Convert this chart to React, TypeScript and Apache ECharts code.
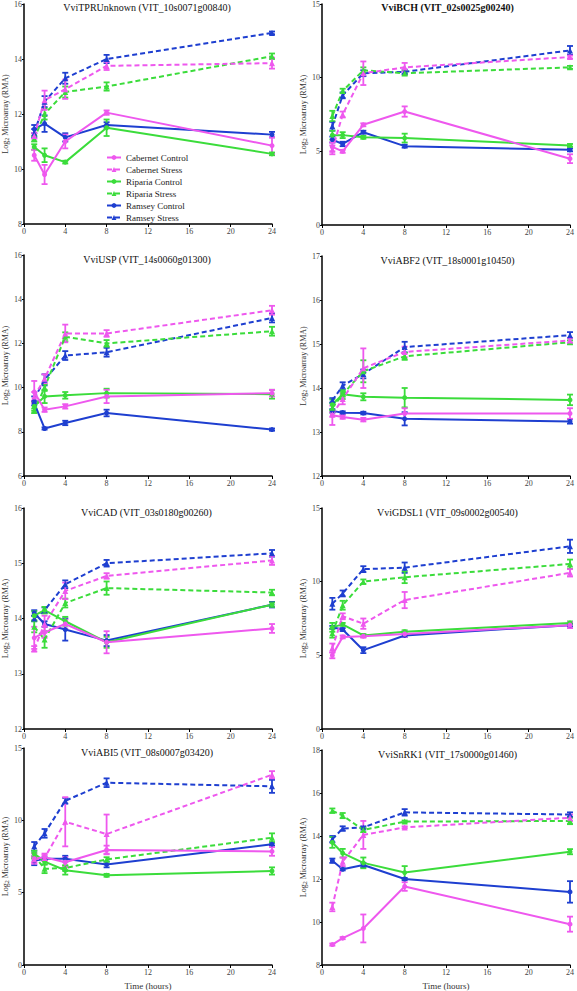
import React, { useEffect, useRef } from "react";
import * as echarts from "echarts";

// ---------- data ----------
const times = [1, 2, 4, 8, 24];
const xTicks = [0, 4, 8, 12, 16, 20, 24];
const seriesNames = [
  "Cabernet Control",
  "Cabernet Stress",
  "Riparia Control",
  "Riparia Stress",
  "Ramsey Control",
  "Ramsey Stress",
];
const seriesColors = ["#ee58ee", "#ee58ee", "#3bdc3b", "#3bdc3b", "#1e3fd0", "#1e3fd0"];

const panelTitles = [
  "VviTPRUnknown (VIT_10s0071g00840)",
  "VviBCH (VIT_02s0025g00240)",
  "VviUSP (VIT_14s0060g01300)",
  "VviABF2 (VIT_18s0001g10450)",
  "VviCAD (VIT_03s0180g00260)",
  "VviGDSL1 (VIT_09s0002g00540)",
  "VviABI5 (VIT_08s0007g03420)",
  "VviSnRK1 (VIT_17s0000g01460)",
];
const yMins = [8, 0, 6, 12, 12, 0, 0, 8];
const yMaxs = [16, 15, 16, 17, 16, 15, 15, 18];
const yIntervals = [2, 5, 2, 1, 1, 5, 5, 2];

// order in each: CabC, CabS, RipC, RipS, RamC, RamS
const tprMeans = [
  [10.5, 9.8, 11.0, 12.05, 10.85],
  [11.2, 12.5, 12.9, 13.75, 13.85],
  [10.8, 10.5, 10.25, 11.5, 10.55],
  [11.1, 12.0, 12.8, 13.0, 14.1],
  [11.45, 11.65, 11.15, 11.6, 11.25],
  [11.3, 12.45, 13.3, 14.0, 14.95],
];
const tprErrs = [
  [0.2, 0.35, 0.25, 0.08, 0.3],
  [0.1, 0.35, 0.35, 0.15, 0.2],
  [0.1, 0.25, 0.05, 0.3, 0.05],
  [0.1, 0.2, 0.2, 0.15, 0.1],
  [0.15, 0.3, 0.15, 0.1, 0.1],
  [0.15, 0.2, 0.2, 0.15, 0.05],
];

const bchMeans = [
  [5.3, 5.0, 6.8, 7.7, 4.5],
  [5.1, 7.5, 10.3, 10.7, 11.4],
  [6.1, 6.1, 5.95, 5.9, 5.4],
  [7.4, 9.1, 10.5, 10.3, 10.7],
  [5.8, 5.5, 6.3, 5.35, 5.1],
  [6.7, 8.8, 10.3, 10.4, 11.85],
];
const bchErrs = [
  [0.3, 0.1, 0.1, 0.35, 0.3],
  [0.3, 0.2, 0.8, 0.3, 0.1],
  [0.3, 0.2, 0.1, 0.3, 0.1],
  [0.35, 0.15, 0.2, 0.15, 0.1],
  [0.2, 0.15, 0.1, 0.1, 0.1],
  [0.3, 0.2, 0.2, 0.15, 0.3],
];

const uspMeans = [
  [9.8, 9.0, 9.15, 9.6, 9.75],
  [9.6, 10.4, 12.45, 12.45, 13.5],
  [9.15, 9.6, 9.65, 9.75, 9.7],
  [8.95, 10.0, 12.3, 12.0, 12.55],
  [9.3, 8.15, 8.4, 8.85, 8.1],
  [9.5, 10.35, 11.45, 11.6, 13.15],
];
const uspErrs = [
  [0.5, 0.1, 0.1, 0.3, 0.15],
  [0.2, 0.2, 0.4, 0.15, 0.2],
  [0.2, 0.3, 0.15, 0.2, 0.2],
  [0.1, 0.15, 0.2, 0.15, 0.2],
  [0.1, 0.05, 0.1, 0.15, 0.05],
  [0.1, 0.25, 0.2, 0.2, 0.2],
];

const abf2Means = [
  [13.38, 13.34, 13.28, 13.42, 13.42],
  [13.4, 13.75, 14.45, 14.82, 15.08],
  [13.62, 13.86, 13.8, 13.78, 13.73],
  [13.55, 13.85, 14.38, 14.72, 15.04],
  [13.48, 13.44, 13.43, 13.3, 13.24],
  [13.72, 14.05, 14.32, 14.93, 15.2],
];
const abf2Errs = [
  [0.22, 0.04, 0.04, 0.12, 0.12],
  [0.05, 0.12, 0.45, 0.12, 0.05],
  [0.12, 0.05, 0.08, 0.22, 0.12],
  [0.1, 0.1, 0.25, 0.08, 0.04],
  [0.04, 0.03, 0.03, 0.15, 0.05],
  [0.05, 0.08, 0.1, 0.12, 0.07],
];

const cadMeans = [
  [13.65, 13.75, 13.9, 13.57, 13.82],
  [13.45, 13.9, 14.5, 14.77, 15.05],
  [14.05, 14.15, 13.95, 13.57, 14.25],
  [13.85, 13.62, 14.28, 14.55, 14.47],
  [14.1, 13.9, 13.8, 13.6, 14.25],
  [14.0, 14.15, 14.62, 15.0, 15.18],
];
const cadErrs = [
  [0.2, 0.1, 0.08, 0.2, 0.08],
  [0.05, 0.15, 0.15, 0.05, 0.08],
  [0.08, 0.06, 0.08, 0.1, 0.04],
  [0.1, 0.15, 0.08, 0.12, 0.05],
  [0.05, 0.05, 0.2, 0.1, 0.05],
  [0.05, 0.05, 0.07, 0.06, 0.06],
];

const gdslMeans = [
  [5.0, 6.25, 6.3, 6.45, 7.05],
  [5.5, 7.65, 7.15, 8.75, 10.6],
  [6.9, 7.1, 6.35, 6.6, 7.2],
  [6.5, 8.4, 10.0, 10.3, 11.2],
  [6.9, 6.75, 5.35, 6.35, 7.05],
  [8.5, 9.2, 10.85, 10.95, 12.4],
];
const gdslErrs = [
  [0.2, 0.1, 0.1, 0.2, 0.2],
  [0.3, 0.2, 0.35, 0.55, 0.25],
  [0.3, 0.1, 0.1, 0.1, 0.1],
  [0.3, 0.3, 0.15, 0.4, 0.3],
  [0.1, 0.1, 0.2, 0.1, 0.1],
  [0.4, 0.2, 0.2, 0.35, 0.45],
];

const abi5Means = [
  [7.35, 7.45, 7.1, 7.95, 7.85],
  [7.3, 7.4, 9.9, 9.05, 13.15],
  [7.7, 7.15, 6.55, 6.2, 6.5],
  [7.55, 6.65, 6.7, 7.3, 8.8],
  [7.2, 7.35, 7.35, 6.95, 8.35],
  [8.2, 9.1, 11.35, 12.6, 12.35],
];
const abi5Errs = [
  [0.35, 0.25, 0.35, 0.3, 0.3],
  [0.2, 0.2, 1.7, 1.35, 0.25],
  [0.2, 0.2, 0.3, 0.1, 0.25],
  [0.2, 0.3, 0.2, 0.15, 0.3],
  [0.3, 0.1, 0.2, 0.2, 0.1],
  [0.3, 0.3, 0.2, 0.3, 0.45],
];

const snrkMeans = [
  [8.95, 9.25, 9.7, 11.65, 9.9],
  [10.7, 12.8, 14.05, 14.4, 14.85],
  [13.7, 13.2, 12.75, 12.3, 13.27],
  [15.18, 14.95, 14.28, 14.67, 14.7],
  [12.85, 12.45, 12.65, 12.0, 11.4],
  [13.85, 14.35, 14.4, 15.1, 15.0],
];
const snrkErrs = [
  [0.05, 0.05, 0.65, 0.2, 0.35],
  [0.2, 0.2, 0.65, 0.05, 0.15],
  [0.25, 0.2, 0.25, 0.3, 0.12],
  [0.1, 0.12, 0.1, 0.05, 0.15],
  [0.1, 0.05, 0.1, 0.05, 0.5],
  [0.15, 0.1, 0.05, 0.15, 0.1],
];

const panelMeans = [tprMeans, bchMeans, uspMeans, abf2Means, cadMeans, gdslMeans, abi5Means, snrkMeans];
const panelErrs = [tprErrs, bchErrs, uspErrs, abf2Errs, cadErrs, gdslErrs, abi5Errs, snrkErrs];

// ---------- layout ----------
const FONT = "'Liberation Serif', 'DejaVu Serif', serif";
const gridRects = [
  { left: 22, top: 3, width: 250, height: 221 },
  { left: 322, top: 3, width: 251, height: 222 },
  { left: 22, top: 255, width: 250, height: 221 },
  { left: 322, top: 256, width: 251, height: 220 },
  { left: 21, top: 508, width: 251, height: 221 },
  { left: 322, top: 508, width: 251, height: 221 },
  { left: 22, top: 748, width: 250, height: 220 },
  { left: 322, top: 750, width: 251, height: 218 },
];

function buildOption() {
  const grids: any[] = [];
  const xAxes: any[] = [];
  const yAxes: any[] = [];
  const titles: any[] = [];
  const series: any[] = [];

  gridRects.forEach((g, p) => {
    grids.push({ left: g.left, top: g.top, width: g.width, height: g.height, containLabel: false });
    const bottomRow = p >= 6;
    xAxes.push({
      type: "value",
      gridIndex: p,
      min: xTicks[0],
      max: xTicks[xTicks.length - 1],
      interval: 4,
      name: bottomRow ? "Time (hours)" : "",
      nameLocation: "middle",
      nameGap: 16,
      nameTextStyle: { fontFamily: FONT, fontSize: 9, color: "#333" },
      axisLine: { show: true, onZero: false, lineStyle: { color: "#000", width: 1.5 } },
      axisTick: { show: true, length: 3, lineStyle: { color: "#000", width: 1 } },
      axisLabel: { fontFamily: FONT, fontSize: 8, color: "#444", margin: 3 },
      splitLine: { show: false },
    });
    yAxes.push({
      type: "value",
      gridIndex: p,
      min: yMins[p],
      max: yMaxs[p],
      interval: yIntervals[p],
      name: "Log{sub|2} Microarray (RMA)",
      nameLocation: "middle",
      nameGap: 11,
      nameTextStyle: {
        fontFamily: FONT,
        fontSize: 8,
        color: "#333",
        rich: { sub: { fontFamily: FONT, fontSize: 6, color: "#333", verticalAlign: "bottom", padding: [4, 0, 0, 0] } },
      },
      axisLine: { show: true, onZero: false, lineStyle: { color: "#000", width: 1.5 } },
      axisTick: { show: true, length: 2, lineStyle: { color: "#000", width: 1 } },
      axisLabel: { fontFamily: FONT, fontSize: 8, color: "#444", margin: 2 },
      splitLine: { show: false },
    });
    titles.push({
      text: panelTitles[p],
      left: g.left + g.width / 2,
      top: g.top - 1,
      textAlign: "center",
      padding: 0,
      textStyle: {
        fontFamily: FONT,
        fontSize: 10,
        fontWeight: p === 1 ? "bold" : "normal",
        color: "#111",
      },
    });

    const means = panelMeans[p];
    const errs = panelErrs[p];
    const drawOrder = [5, 4, 3, 2, 1, 0];
    drawOrder.forEach((s) => {
      const color = seriesColors[s];
      const dashed = s % 2 === 1;
      series.push({
        type: "custom",
        name: seriesNames[s] + " error",
        xAxisIndex: p,
        yAxisIndex: p,
        silent: true,
        z: 2,
        data: times.map((t, k) => [t, means[s][k] - errs[s][k], means[s][k] + errs[s][k]]),
        encode: { x: 0, y: [1, 2] },
        renderItem: (params: any, api: any) => {
          const x = api.value(0);
          const lo = api.coord([x, api.value(1)]);
          const hi = api.coord([x, api.value(2)]);
          const hw = 3;
          const st = { stroke: color, lineWidth: 1.8 };
          return {
            type: "group",
            children: [
              { type: "line", shape: { x1: lo[0], y1: lo[1], x2: hi[0], y2: hi[1] }, style: st },
              { type: "line", shape: { x1: lo[0] - hw, y1: lo[1], x2: lo[0] + hw, y2: lo[1] }, style: st },
              { type: "line", shape: { x1: hi[0] - hw, y1: hi[1], x2: hi[0] + hw, y2: hi[1] }, style: st },
            ],
          };
        },
      });
      series.push({
        type: "line",
        name: seriesNames[s],
        xAxisIndex: p,
        yAxisIndex: p,
        z: 3,
        data: times.map((t, k) => [t, means[s][k]]),
        symbol: dashed ? "triangle" : "circle",
        symbolSize: dashed ? 6 : 5,
        showSymbol: true,
        lineStyle: { color, width: 2, type: dashed ? [5, 3] : "solid" },
        itemStyle: { color },
      });
    });
  });

  return {
    animation: false,
    backgroundColor: "#fff",
    title: titles,
    grid: grids,
    xAxis: xAxes,
    yAxis: yAxes,
    legend: {
      data: seriesNames,
      orient: "vertical",
      left: 101,
      top: 148,
      itemWidth: 14,
      itemHeight: 6,
      itemGap: 3,
      selectedMode: false,
      textStyle: { fontFamily: FONT, fontSize: 9, color: "#222" },
    },
    series,
  };
}

export default function App() {
  const ref = useRef<HTMLDivElement>(null);
  useEffect(() => {
    if (!ref.current) return;
    const chart = echarts.init(ref.current, undefined, { renderer: "svg" });
    chart.setOption(buildOption() as any);
    return () => chart.dispose();
  }, []);
  return (
    <div
      ref={ref}
      style={{ position: "absolute", left: 0, top: 0, width: 577, height: 991, background: "#fff" }}
    />
  );
}
